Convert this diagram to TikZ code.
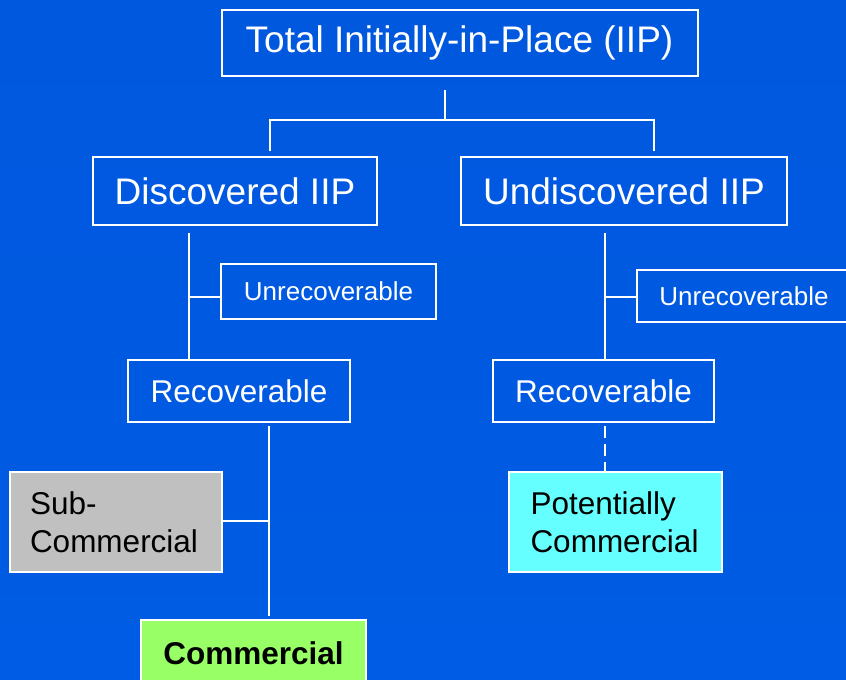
\documentclass[tikz,border=0pt]{standalone}
\usepackage{fontspec}
\setmainfont{Liberation Sans}
\usepackage{xcolor}

\definecolor{bgtop}{RGB}{0,88,222}
\definecolor{bgmid}{RGB}{0,80,200}
\definecolor{bgbot}{RGB}{0,92,228}
\definecolor{subgray}{RGB}{192,192,192}
\definecolor{potcyan}{RGB}{102,255,255}
\definecolor{comgreen}{RGB}{153,255,102}

\begin{document}
\begin{tikzpicture}[x=0.5pt, y=-0.5pt,
	box/.style={draw=white, line width=1pt, inner sep=0pt, text=white},
	bigbox/.style={box, font=\fontsize{18.5}{22}\selectfont},
	midbox/.style={box, font=\fontsize{15.75}{19}\selectfont},
	smallbox/.style={box, font=\fontsize{13}{16}\selectfont},
	conn/.style={draw=white, line width=1pt}]
	\useasboundingbox (0,0) rectangle (846,680);
	\clip (0,0) rectangle (846,680);
	\shade[top color=bgtop, middle color=bgmid, bottom color=bgbot] (0,0) rectangle (846,680);
	
	\node[bigbox, minimum width=238pt, minimum height=33pt] (total) at (459.5,43) {Total Initially-in-Place (IIP)};
	\node[bigbox, minimum width=142pt, minimum height=34pt] (disc) at (235,191) {Discovered IIP};
	\node[bigbox, minimum width=163pt, minimum height=34pt] (undisc) at (624,191) {Undiscovered IIP};
	
	\node[smallbox, minimum width=107.5pt, minimum height=27.5pt] (unrecL) at (328.5,291.5) {Unrecoverable};
	\node[smallbox, minimum width=107pt, minimum height=26pt] (unrecR) at (744,296) {Unrecoverable};
	
	\node[midbox, minimum width=111pt, minimum height=31pt] (recL) at (239,391) {Recoverable};
	\node[midbox, minimum width=110.5pt, minimum height=31pt] (recR) at (603.5,391) {Recoverable};
	
	\node[midbox, fill=subgray, text=black, minimum width=106pt, minimum height=50pt, text width=86pt, align=left] (subc) at (116,522) {Sub-\\Commercial};
	\node[midbox, fill=potcyan, text=black, minimum width=106.5pt, minimum height=50pt, text width=85pt, align=left] (potc) at (615.5,522) {Potentially\\Commercial};
	\node[midbox, fill=comgreen, text=black, font=\fontsize{15.75}{19}\selectfont\bfseries, minimum width=112.5pt, minimum height=33pt] (comm) at (253.5,653) {Commercial};
	
	\coordinate (split) at (445,120);
	\coordinate (splitL) at (270,120);
	\coordinate (splitR) at (654,120);
	\coordinate (jL) at (189,297);
	\coordinate (jR) at (605,297);
	\coordinate (jC) at (269,521);
	
	\draw[conn, shorten <=6.5pt] (total.south -| split) -- (split);
	\draw[conn, shorten <=2.5pt, shorten >=2.5pt] (disc.north -| splitL) -- (splitL) -- (splitR) -- (undisc.north -| splitR);
	
	\draw[conn, shorten <=3.5pt] (disc.south -| jL) -- (recL.north -| jL);
	\draw[conn] (jL) -- (unrecL.west |- jL);
	\draw[conn, shorten <=3.5pt] (undisc.south -| jR) -- (recR.north -| jR);
	\draw[conn] (jR) -- (unrecR.west |- jR);
	
	\draw[conn, shorten <=1.5pt, shorten >=1.5pt] (recL.south -| jC) -- (comm.north -| jC);
	\draw[conn] (jC) -- (subc.east |- jC);
	\draw[conn, dash pattern=on 6pt off 3pt, shorten <=1.5pt] (recR.south -| jR) -- (potc.north -| jR);
\end{tikzpicture}
\end{document}
